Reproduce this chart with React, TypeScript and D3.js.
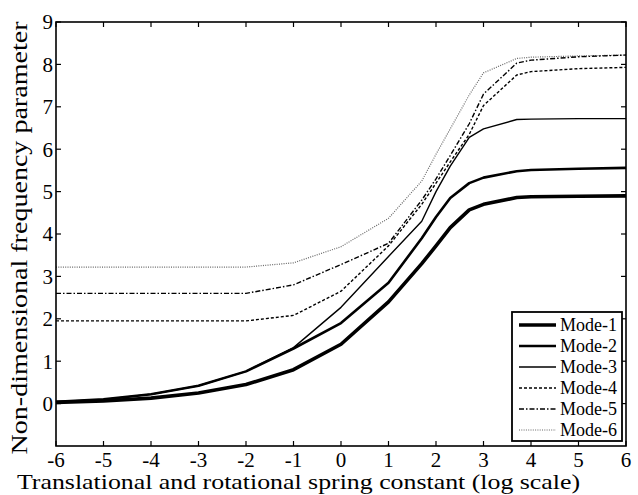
import React from 'react'
import * as d3 from 'd3'

// log10 of spring constant
const logK = [-6, -5, -4, -3, -2, -1, 0, 1, 1.7, 2, 2.3, 2.7, 3, 3.7, 4, 5, 6]

const mode1 = [0.03, 0.06, 0.13, 0.25, 0.45, 0.8, 1.4, 2.4, 3.3, 3.72, 4.15, 4.57, 4.7, 4.86, 4.88, 4.89, 4.9]
const mode2 = [0.04, 0.1, 0.22, 0.42, 0.76, 1.3, 1.9, 2.85, 3.9, 4.4, 4.85, 5.2, 5.33, 5.48, 5.51, 5.54, 5.56]
const mode3 = [0.04, 0.1, 0.22, 0.42, 0.76, 1.32, 2.27, 3.47, 4.3, 5.0, 5.6, 6.28, 6.48, 6.7, 6.71, 6.72, 6.72]
const mode4 = [1.95, 1.95, 1.95, 1.95, 1.95, 2.08, 2.65, 3.72, 4.7, 5.2, 5.7, 6.35, 7.03, 7.75, 7.83, 7.9, 7.93]
const mode5 = [2.6, 2.6, 2.6, 2.6, 2.6, 2.8, 3.28, 3.78, 4.8, 5.3, 5.85, 6.6, 7.3, 8.03, 8.1, 8.18, 8.22]
const mode6 = [3.22, 3.22, 3.22, 3.22, 3.22, 3.32, 3.7, 4.37, 5.25, 5.88, 6.48, 7.28, 7.8, 8.14, 8.17, 8.2, 8.22]

const modeNames = ['Mode-1', 'Mode-2', 'Mode-3', 'Mode-4', 'Mode-5', 'Mode-6']
const xTicks = [-6, -5, -4, -3, -2, -1, 0, 1, 2, 3, 4, 5, 6]
const yTicks = [0, 1, 2, 3, 4, 5, 6, 7, 8, 9]

const styles = [
  { w: 3.6, dash: '', color: '#000' },
  { w: 2.6, dash: '', color: '#000' },
  { w: 1.4, dash: '', color: '#000' },
  { w: 1.4, dash: '3,2', color: '#000' },
  { w: 1.4, dash: '5,2,1.5,2', color: '#000' },
  { w: 1.2, dash: '1,1.3', color: '#666' },
]

const font = 'Liberation Serif'

export default function App() {
  const margin = { top: 22, right: 12, bottom: 49, left: 56 }
  const W = 638, H = 495
  const width = W - margin.left - margin.right
  const height = H - margin.top - margin.bottom

  const x = d3.scaleLinear().domain([-6, 6]).range([0, width])
  const y = d3.scaleLinear().domain([-1, 9]).range([height, 0])

  const series = [mode1, mode2, mode3, mode4, mode5, mode6]
  const line = d3.line<number>()
    .x((d, i) => x(logK[i]))
    .y(d => y(d))

  // legend box
  const lg = { x: 456, y: 290, w: 110, h: 129 }
  const ts = { fontFamily: font }

  return (
    <svg width={W} height={H} style={{ position: 'absolute', left: 0, top: 0, background: '#fff' }}>
      <g transform={`translate(${margin.left},${margin.top})`}>
        {series.slice().reverse().map((s, ri) => {
          const i = series.length - 1 - ri
          return (
            <path key={i} d={line(s) || ''} fill="none" stroke={styles[i].color}
              strokeWidth={styles[i].w} strokeDasharray={styles[i].dash}
              strokeLinejoin="round" />
          )
        })}

        {/* ticks inward on all four sides */}
        {xTicks.map(t => (
          <g key={'x' + t}>
            <line x1={x(t)} x2={x(t)} y1={height} y2={height - 5} stroke="#000" strokeWidth={1.2} />
            <line x1={x(t)} x2={x(t)} y1={0} y2={5} stroke="#000" strokeWidth={1.2} />
            <text style={ts} x={x(t)} y={height + 21} textAnchor="middle" fontSize={21}>{t}</text>
          </g>
        ))}
        {yTicks.map(t => (
          <g key={'y' + t}>
            <line x1={0} x2={5} y1={y(t)} y2={y(t)} stroke="#000" strokeWidth={1.2} />
            <line x1={width} x2={width - 5} y1={y(t)} y2={y(t)} stroke="#000" strokeWidth={1.2} />
            <text style={ts} x={-3} y={y(t)} dy="0.35em" textAnchor="end" fontSize={21}>{t}</text>
          </g>
        ))}

        <rect x={0} y={0} width={width} height={height} fill="none" stroke="#000" strokeWidth={1.6} />

        <text style={ts} x={(17 + 580) / 2 - margin.left} y={height + 43} textAnchor="middle" fontSize={21}
          textLength={563} lengthAdjust="spacingAndGlyphs">
          Translational and rotational spring constant (log scale)
        </text>
        <text style={ts} transform={`translate(${-margin.left + 27},${height / 2 + 4}) rotate(-90)`} textAnchor="middle"
          fontSize={24} textLength={433} lengthAdjust="spacingAndGlyphs">
          Non-dimensional frequency parameter
        </text>

        {/* legend */}
        <rect x={lg.x} y={lg.y} width={lg.w} height={lg.h} fill="#fff" stroke="#000" strokeWidth={1.8} />
        {modeNames.map((name, i) => {
          const ly = lg.y + 13 + i * 21
          return (
            <g key={name}>
              <line x1={lg.x + 7} x2={lg.x + 44} y1={ly} y2={ly} stroke={styles[i].color}
                strokeWidth={styles[i].w} strokeDasharray={styles[i].dash} />
              <text style={ts} x={lg.x + 48} y={ly} dy="0.35em" fontSize={18}>{name}</text>
            </g>
          )
        })}
      </g>
    </svg>
  )
}
